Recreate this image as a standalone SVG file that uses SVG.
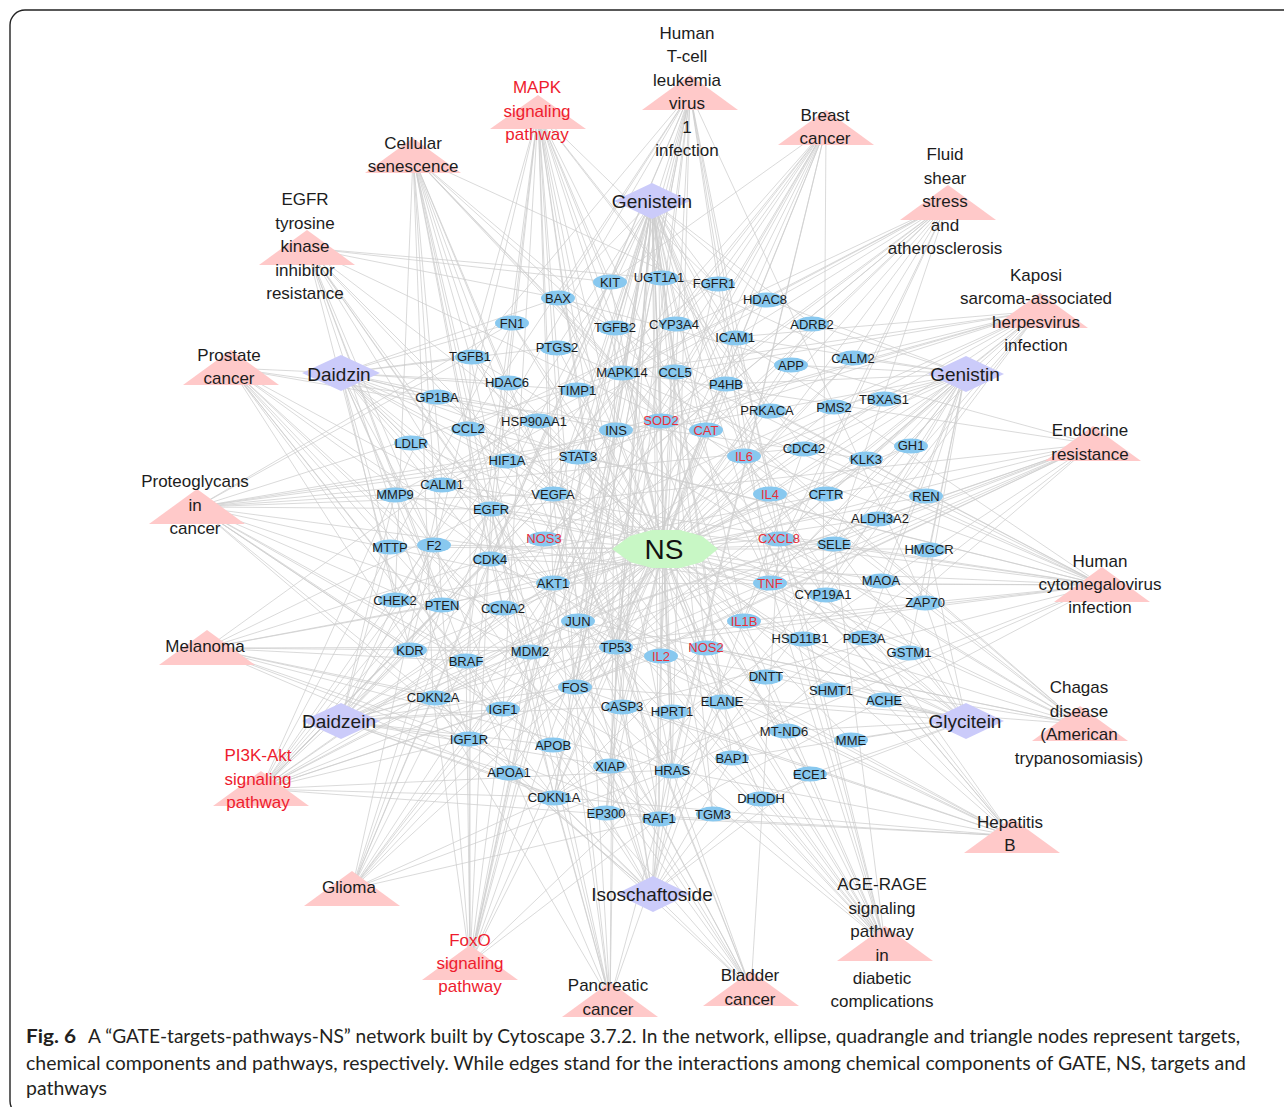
<svg xmlns="http://www.w3.org/2000/svg" width="1284" height="1107" viewBox="0 0 1284 1107">
<style>
.e{stroke:#cecece;stroke-width:.75;fill:none}
.t ellipse{fill:#88c8ef}
.t text{font:13px "Liberation Sans",Arial,sans-serif;fill:#1c1c1c;text-anchor:middle}
.t.r text{fill:#e8303a}
.p polygon{fill:#ffc9c9}
.p text{font:17px "Liberation Sans",Arial,sans-serif;fill:#1c1c1c;text-anchor:middle}
.p.r text{fill:#ee1c2e}
.c polygon{fill:#cbcbfa}
.c text{font:19px "Liberation Sans",Arial,sans-serif;fill:#1c1c1c;text-anchor:middle}
.cap{font-family:Lato,"Open Sans",sans-serif;font-size:19px;fill:#231f20}
</style>
<rect x="10" y="10" width="1300" height="1106" rx="15" fill="#fff" stroke="#222" stroke-width="1.4"/>
<g id="connectors">
<path id="e-P1" class="e" d="M307 248L491 509M307 248L553 583M307 248L558 298M307 248L466 661M307 248L714 283M307 248L672 770M307 248L744 456M307 248L410 650M307 248L659 818M307 248L578 456M307 248L442 605M307 248L469 739M307 248L503 709M307 248L553 494M307 248L507 460M307 248L610 282"/>
<path id="e-P2" class="e" d="M413 156L616 647M413 156L530 651M413 156L503 608M413 156L490 559M413 156L554 797M413 156L433 697M413 156L395 600M413 156L442 605M413 156L553 583M413 156L779 538M413 156L744 456M413 156L672 770M413 156L659 818M413 156L661 420M413 156L470 356M413 156L615 327M413 156L622 372M413 156L442 484M413 156L853 358"/>
<path id="e-P3" class="e" d="M538 112L553 583M538 112L466 661M538 112L804 448M538 112L491 509M538 112L714 283M538 112L575 687M538 112L672 770M538 112L503 709M538 112L469 739M538 112L744 621M538 112L616 430M538 112L578 621M538 112L410 650M538 112L610 282M538 112L622 372M538 112L659 818M538 112L470 356M538 112L615 327M538 112L770 583M538 112L616 647M538 112L553 494M538 112L768 410M538 112L622 706"/>
<path id="e-P4" class="e" d="M690 93L553 583M690 93L558 298M690 93L554 797M690 93L433 697M690 93L606 813M690 93L575 687M690 93L735 337M690 93L661 656M690 93L744 456M690 93L578 621M690 93L622 372M690 93L470 356M690 93L615 327M690 93L770 583M690 93L616 647M690 93L468 428M690 93L925 602M690 93L395 600M690 93L490 559M690 93L779 538M690 93L672 770"/>
<path id="e-P5" class="e" d="M826 128L553 583M826 128L466 661M826 128L490 559M826 128L554 797M826 128L491 509M826 128L714 283M826 128L575 687M826 128L672 770M826 128L503 709M826 128L469 739M826 128L578 621M826 128L610 282M826 128L659 818M826 128L616 647M826 128L442 605M826 128L823 595"/>
<path id="e-P6" class="e" d="M948 203L553 583M948 203L442 484M948 203L853 358M948 203L735 337M948 203L744 621M948 203L578 621M948 203L410 650M948 203L622 372M948 203L544 538M948 203L834 544M948 203L770 583M948 203L553 494M948 203L468 428M948 203L661 420M948 203L616 647M948 203L395 494M948 203L706 430"/>
<path id="e-P7" class="e" d="M1040 311L553 583M1040 311L675 372M1040 311L779 538M1040 311L606 813M1040 311L575 687M1040 311L672 770M1040 311L735 337M1040 311L744 456M1040 311L578 621M1040 311L622 372M1040 311L659 818M1040 311L578 456M1040 311L616 647M1040 311L490 559M1040 311L442 484M1040 311L853 358M1040 311L507 460M1040 311L554 797"/>
<path id="e-P8" class="e" d="M1093 444L553 583M1093 444L558 298M1093 444L466 661M1093 444L490 559M1093 444L554 797M1093 444L433 697M1093 444L491 509M1093 444L672 770M1093 444L469 739M1093 444L578 621M1093 444L622 372M1093 444L530 651M1093 444L659 818M1093 444L616 647M1093 444L575 687M1093 444L503 709"/>
<path id="e-P9" class="e" d="M1102 585L553 583M1102 585L558 298M1102 585L622 706M1102 585L468 428M1102 585L675 372M1102 585L804 448M1102 585L490 559M1102 585L554 797M1102 585L779 538M1102 585L491 509M1102 585L672 770M1102 585L744 621M1102 585L744 456M1102 585L530 651M1102 585L659 818M1102 585L578 456M1102 585L770 583M1102 585L616 647M1102 585L557 347M1102 585L768 410M1102 585L442 484M1102 585L735 337"/>
<path id="e-P10" class="e" d="M1080 724L468 428M1080 724L675 372M1080 724L575 687M1080 724L744 621M1080 724L661 656M1080 724L744 456M1080 724L578 621M1080 724L622 372M1080 724L706 647M1080 724L470 356M1080 724L615 327M1080 724L770 583M1080 724L779 538"/>
<path id="e-P11" class="e" d="M1012 836L553 583M1012 836L558 298M1012 836L622 706M1012 836L490 559M1012 836L554 797M1012 836L606 813M1012 836L575 687M1012 836L744 456M1012 836L578 621M1012 836L622 372M1012 836L659 818M1012 836L578 456M1012 836L770 583M1012 836L616 647M1012 836L779 538M1012 836L672 770"/>
<path id="e-P12" class="e" d="M885 944L553 583M885 944L468 428M885 944L779 538M885 944L735 337M885 944L744 621M885 944L744 456M885 944L578 621M885 944L622 372M885 944L544 538M885 944L834 544M885 944L578 456M885 944L470 356M885 944L770 583M885 944L553 494M885 944L622 706M885 944L558 298M885 944L512 323M885 944L672 770"/>
<path id="e-P13" class="e" d="M751 989L466 661M751 989L490 559M751 989L554 797M751 989L433 697M751 989L779 538M751 989L491 509M751 989L672 770M751 989L530 651M751 989L659 818M751 989L616 647M751 989L395 494M751 989L553 494"/>
<path id="e-P14" class="e" d="M610 1000L553 583M610 1000L466 661M610 1000L490 559M610 1000L433 697M610 1000L491 509M610 1000L659 818M610 1000L578 456M610 1000L470 356M610 1000L615 327M610 1000L616 647M610 1000L553 494M610 1000L804 448M610 1000L554 797"/>
<path id="e-P15" class="e" d="M470 963L553 583M470 963L466 661M470 963L706 430M470 963L554 797M470 963L433 697M470 963L491 509M470 963L672 770M470 963L503 709M470 963L469 739M470 963L616 430M470 963L622 372M470 963L530 651M470 963L659 818M470 963L661 420M470 963L578 456M470 963L470 356M470 963L615 327M470 963L442 605"/>
<path id="e-P16" class="e" d="M352 889L553 583M352 889L466 661M352 889L442 484M352 889L853 358M352 889L490 559M352 889L554 797M352 889L433 697M352 889L491 509M352 889L672 770M352 889L503 709M352 889L469 739M352 889L530 651M352 889L659 818M352 889L616 647M352 889L442 605"/>
<path id="e-P17" class="e" d="M261 789L553 583M261 789L490 559M261 789L554 797M261 789L491 509M261 789L714 283M261 789L512 323M261 789L911 445M261 789L672 770M261 789L503 709M261 789L469 739M261 789L661 656M261 789L770 494M261 789L744 456M261 789L616 430M261 789L410 650M261 789L610 282M261 789L530 651M261 789L659 818M261 789L616 647M261 789L553 494M261 789L442 605M261 789L534 421M261 789L437 397"/>
<path id="e-P18" class="e" d="M207 648L553 583M207 648L466 661M207 648L490 559M207 648L554 797M207 648L433 697M207 648L491 509M207 648L714 283M207 648L672 770M207 648L503 709M207 648L469 739M207 648L530 651M207 648L659 818M207 648L616 647M207 648L442 605"/>
<path id="e-P19" class="e" d="M197 507L553 583M197 507L466 661M197 507L554 797M197 507L491 509M197 507L512 323M197 507L507 460M197 507L672 770M197 507L503 709M197 507L469 739M197 507L410 650M197 507L622 372M197 507L530 651M197 507L395 494M197 507L659 818M197 507L578 456M197 507L470 356M197 507L770 583M197 507L616 647M197 507L553 494M197 507L768 410M197 507L804 448"/>
<path id="e-P20" class="e" d="M231 368L553 583M231 368L466 661M231 368L554 797M231 368L491 509M231 368L672 770M231 368L534 421M231 368L503 709M231 368L469 739M231 368L866 459M231 368L530 651M231 368L659 818M231 368L616 647M231 368L442 605M231 368L341 373"/>
<path id="e-Genistein" class="e" d="M652 201L610 282M652 201L659 277M652 201L714 283M652 201L558 298M652 201L765 299M652 201L615 327M652 201L674 324M652 201L735 337M652 201L812 324M652 201L557 347M652 201L622 372M652 201L675 372M652 201L726 384M652 201L768 410M652 201L661 420M652 201L616 430M652 201L706 430M652 201L744 456M652 201L578 456M652 201L553 494M652 201L491 509M652 201L544 538M652 201L779 538M652 201L490 559M652 201L553 583M652 201L770 583M652 201L823 595M652 201L578 621M652 201L744 621M652 201L616 647M652 201L706 647M652 201L661 656M652 201L575 687M652 201L622 706M652 201L672 711M652 201L722 701M652 201L610 766M652 201L672 770M652 201L554 797M652 201L606 813M652 201L659 818M652 201L713 814M652 201L732 758"/>
<path id="e-Daidzin" class="e" d="M341 373L437 397M341 373L470 356M341 373L508 382M341 373L411 443M341 373L468 428M341 373L395 494M341 373L442 484M341 373L434 545M341 373L390 547M341 373L395 600M341 373L442 605M341 373L507 460M341 373L491 509M341 373L490 559M341 373L553 583M341 373L544 538M341 373L512 323M341 373L558 298M341 373L576 390M341 373L534 421M341 373L557 347M341 373L578 456M341 373L553 494M341 373L616 430"/>
<path id="e-Genistin" class="e" d="M965 374L853 358M965 374L884 399M965 374L834 407M965 374L768 410M965 374L911 445M965 374L866 459M965 374L804 448M965 374L926 496M965 374L880 518M965 374L929 549M965 374L826 494M965 374L834 544M965 374L770 494M965 374L744 456M965 374L881 580M965 374L925 602M965 374L823 595M965 374L790 365M965 374L812 324M965 374L735 337M965 374L765 299M965 374L726 384M965 374L779 538M965 374L770 583M965 374L864 638M965 374L909 652"/>
<path id="e-Daidzein" class="e" d="M341 721L433 697M341 721L410 650M341 721L466 661M341 721L503 709M341 721L469 739M341 721L509 772M341 721L553 745M341 721L395 600M341 721L442 605M341 721L503 608M341 721L530 651M341 721L575 687M341 721L622 706M341 721L578 621M341 721L616 647M341 721L553 583M341 721L490 559M341 721L390 547M341 721L434 545M341 721L610 766M341 721L554 797M341 721L606 813M341 721L395 494M341 721L491 509"/>
<path id="e-Glycitein" class="e" d="M966 721L909 652M966 721L864 638M966 721L884 700M966 721L851 740M966 721L831 690M966 721L766 676M966 721L800 638M966 721L784 731M966 721L810 774M966 721L925 602M966 721L881 580M966 721L744 621M966 721L770 583M966 721L823 595M966 721L706 647M966 721L722 701M966 721L732 758M966 721L761 798M966 721L929 549M966 721L834 544"/>
<path id="e-Isoschaftoside" class="e" d="M652 894L659 818M652 894L713 814M652 894L606 813M652 894L672 770M652 894L610 766M652 894L554 797M652 894L761 798M652 894L732 758M652 894L509 772M652 894L553 745M652 894L672 711M652 894L622 706M652 894L575 687M652 894L616 647M652 894L661 656M652 894L706 647M652 894L722 701M652 894L810 774M652 894L469 739M652 894L578 621"/>
<path id="e-NS" class="e" d="M663 549L610 282M663 549L659 277M663 549L714 283M663 549L558 298M663 549L765 299M663 549L512 323M663 549L615 327M663 549L674 324M663 549L735 337M663 549L812 324M663 549L557 347M663 549L470 356M663 549L790 365M663 549L853 358M663 549L622 372M663 549L675 372M663 549L508 382M663 549L576 390M663 549L726 384M663 549L437 397M663 549L884 399M663 549L834 407M663 549L768 410M663 549L534 421M663 549L661 420M663 549L468 428M663 549L616 430M663 549L706 430M663 549L411 443M663 549L804 448M663 549L911 445M663 549L744 456M663 549L578 456M663 549L507 460M663 549L866 459M663 549L442 484M663 549L395 494M663 549L553 494M663 549L770 494M663 549L826 494M663 549L926 496M663 549L491 509M663 549L880 518M663 549L544 538M663 549L779 538M663 549L434 545M663 549L390 547M663 549L834 544M663 549L929 549M663 549L490 559M663 549L881 580M663 549L553 583M663 549L770 583M663 549L823 595M663 549L395 600M663 549L442 605M663 549L925 602M663 549L503 608M663 549L578 621M663 549L744 621M663 549L800 638M663 549L864 638M663 549L616 647M663 549L706 647M663 549L410 650M663 549L530 651M663 549L909 652M663 549L661 656M663 549L466 661M663 549L766 676M663 549L575 687M663 549L831 690M663 549L433 697M663 549L884 700M663 549L722 701M663 549L622 706M663 549L503 709M663 549L672 711M663 549L784 731M663 549L469 739M663 549L851 740M663 549L553 745M663 549L732 758M663 549L610 766M663 549L672 770M663 549L509 772M663 549L810 774M663 549L554 797M663 549L761 798M663 549L606 813M663 549L713 814M663 549L659 818"/>
</g>
<g id="pathways">
<g id="p-egfr" class="p"><polygon points="307,230 259,265 355,265"/><text><tspan x="305" y="205">EGFR</tspan><tspan x="305" y="229">tyrosine</tspan><tspan x="305" y="252">kinase</tspan><tspan x="305" y="276">inhibitor</tspan><tspan x="305" y="299">resistance</tspan></text></g>
<g id="p-senescence" class="p"><polygon points="413,138 365,173 461,173"/><text><tspan x="413" y="149">Cellular</tspan><tspan x="413" y="172">senescence</tspan></text></g>
<g id="p-mapk" class="p r"><polygon points="538,95 490,129 586,129"/><text><tspan x="537" y="93">MAPK</tspan><tspan x="537" y="117">signaling</tspan><tspan x="537" y="140">pathway</tspan></text></g>
<g id="p-htlv" class="p"><polygon points="690,75 642,110 738,110"/><text><tspan x="687" y="39">Human</tspan><tspan x="687" y="62">T-cell</tspan><tspan x="687" y="86">leukemia</tspan><tspan x="687" y="109">virus</tspan><tspan x="687" y="133">1</tspan><tspan x="687" y="156">infection</tspan></text></g>
<g id="p-breast" class="p"><polygon points="826,110 778,145 874,145"/><text><tspan x="825" y="121">Breast</tspan><tspan x="825" y="144">cancer</tspan></text></g>
<g id="p-fluid" class="p"><polygon points="948,185 900,220 996,220"/><text><tspan x="945" y="160">Fluid</tspan><tspan x="945" y="184">shear</tspan><tspan x="945" y="207">stress</tspan><tspan x="945" y="231">and</tspan><tspan x="945" y="254">atherosclerosis</tspan></text></g>
<g id="p-kaposi" class="p"><polygon points="1040,293 992,328 1088,328"/><text><tspan x="1036" y="281">Kaposi</tspan><tspan x="1036" y="304">sarcoma-associated</tspan><tspan x="1036" y="328">herpesvirus</tspan><tspan x="1036" y="351">infection</tspan></text></g>
<g id="p-endocrine" class="p"><polygon points="1093,426 1045,461 1141,461"/><text><tspan x="1090" y="436">Endocrine</tspan><tspan x="1090" y="460">resistance</tspan></text></g>
<g id="p-hcmv" class="p"><polygon points="1102,567 1054,602 1150,602"/><text><tspan x="1100" y="567">Human</tspan><tspan x="1100" y="590">cytomegalovirus</tspan><tspan x="1100" y="613">infection</tspan></text></g>
<g id="p-chagas" class="p"><polygon points="1080,706 1032,741 1128,741"/><text><tspan x="1079" y="693">Chagas</tspan><tspan x="1079" y="717">disease</tspan><tspan x="1079" y="740">(American</tspan><tspan x="1079" y="764">trypanosomiasis)</tspan></text></g>
<g id="p-hepb" class="p"><polygon points="1012,818 964,853 1060,853"/><text><tspan x="1010" y="828">Hepatitis</tspan><tspan x="1010" y="851">B</tspan></text></g>
<g id="p-agerage" class="p"><polygon points="885,926 837,961 933,961"/><text><tspan x="882" y="890">AGE-RAGE</tspan><tspan x="882" y="914">signaling</tspan><tspan x="882" y="937">pathway</tspan><tspan x="882" y="961">in</tspan><tspan x="882" y="984">diabetic</tspan><tspan x="882" y="1007">complications</tspan></text></g>
<g id="p-bladder" class="p"><polygon points="751,971 703,1006 799,1006"/><text><tspan x="750" y="981">Bladder</tspan><tspan x="750" y="1005">cancer</tspan></text></g>
<g id="p-pancreatic" class="p"><polygon points="610,982 562,1017 658,1017"/><text><tspan x="608" y="991">Pancreatic</tspan><tspan x="608" y="1015">cancer</tspan></text></g>
<g id="p-foxo" class="p r"><polygon points="470,945 422,980 518,980"/><text><tspan x="470" y="946">FoxO</tspan><tspan x="470" y="969">signaling</tspan><tspan x="470" y="992">pathway</tspan></text></g>
<g id="p-glioma" class="p"><polygon points="352,871 304,906 400,906"/><text x="349" y="893">Glioma</text></g>
<g id="p-pi3k" class="p r"><polygon points="261,771 213,806 309,806"/><text><tspan x="258" y="761">PI3K-Akt</tspan><tspan x="258" y="785">signaling</tspan><tspan x="258" y="808">pathway</tspan></text></g>
<g id="p-melanoma" class="p"><polygon points="207,630 159,665 255,665"/><text x="205" y="652">Melanoma</text></g>
<g id="p-proteoglycans" class="p"><polygon points="197,489 149,524 245,524"/><text><tspan x="195" y="487">Proteoglycans</tspan><tspan x="195" y="511">in</tspan><tspan x="195" y="534">cancer</tspan></text></g>
<g id="p-prostate" class="p"><polygon points="231,350 183,385 279,385"/><text><tspan x="229" y="361">Prostate</tspan><tspan x="229" y="384">cancer</tspan></text></g>
</g>
<g id="compounds">
<g id="c-genistein" class="c"><polygon points="652,183 690,201 652,219 614,201"/><text x="652" y="208">Genistein</text></g>
<g id="c-daidzin" class="c"><polygon points="341,355 380,373 341,391 302,373"/><text x="339" y="381">Daidzin</text></g>
<g id="c-genistin" class="c"><polygon points="966,356 1004,374 966,392 928,374"/><text x="965" y="381">Genistin</text></g>
<g id="c-daidzein" class="c"><polygon points="341,703 380,721 341,739 302,721"/><text x="339" y="728">Daidzein</text></g>
<g id="c-glycitein" class="c"><polygon points="966,703 1004,721 966,739 928,721"/><text x="965" y="728">Glycitein</text></g>
<g id="c-isoschaftoside" class="c"><polygon points="653,876 690,894 653,912 616,894"/><text x="652" y="901">Isoschaftoside</text></g>
</g>
<g id="NS"><polygon points="612,549 630,536 652,530 680,530 702,536 718,549 702,562 680,568 652,568 630,562" fill="#c8f7c5"/><text x="664" y="559" font-family="Liberation Sans,Arial,sans-serif" font-size="28" text-anchor="middle" fill="#111">NS</text></g>
<g id="targets">
<g id="KIT" class="t"><ellipse cx="610" cy="282" rx="17" ry="7.5"/><text x="610" y="286.5">KIT</text></g>
<g id="UGT1A1" class="t"><ellipse cx="662" cy="278" rx="17" ry="7.5"/><text x="659" y="281.5">UGT1A1</text></g>
<g id="FGFR1" class="t"><ellipse cx="718" cy="284" rx="17" ry="7.5"/><text x="714" y="287.5">FGFR1</text></g>
<g id="BAX" class="t"><ellipse cx="558" cy="298" rx="17" ry="7.5"/><text x="558" y="302.5">BAX</text></g>
<g id="HDAC8" class="t"><ellipse cx="767" cy="300" rx="17" ry="7.5"/><text x="765" y="303.5">HDAC8</text></g>
<g id="FN1" class="t"><ellipse cx="512" cy="323" rx="17" ry="7.5"/><text x="512" y="327.5">FN1</text></g>
<g id="TGFB2" class="t"><ellipse cx="615" cy="328" rx="17" ry="7.5"/><text x="615" y="331.5">TGFB2</text></g>
<g id="CYP3A4" class="t"><ellipse cx="676" cy="324" rx="17" ry="7.5"/><text x="674" y="328.5">CYP3A4</text></g>
<g id="ICAM1" class="t"><ellipse cx="736" cy="338" rx="17" ry="7.5"/><text x="735" y="341.5">ICAM1</text></g>
<g id="ADRB2" class="t"><ellipse cx="812" cy="324" rx="17" ry="7.5"/><text x="812" y="328.5">ADRB2</text></g>
<g id="PTGS2" class="t"><ellipse cx="557" cy="348" rx="17" ry="7.5"/><text x="557" y="351.5">PTGS2</text></g>
<g id="TGFB1" class="t"><ellipse cx="472" cy="357" rx="17" ry="7.5"/><text x="470" y="360.5">TGFB1</text></g>
<g id="APP" class="t"><ellipse cx="791" cy="365" rx="17" ry="7.5"/><text x="791" y="369.5">APP</text></g>
<g id="CALM2" class="t"><ellipse cx="853" cy="358" rx="17" ry="7.5"/><text x="853" y="362.5">CALM2</text></g>
<g id="MAPK14" class="t"><ellipse cx="622" cy="373" rx="17" ry="7.5"/><text x="622" y="376.5">MAPK14</text></g>
<g id="CCL5" class="t"><ellipse cx="675" cy="372" rx="17" ry="7.5"/><text x="675" y="376.5">CCL5</text></g>
<g id="HDAC6" class="t"><ellipse cx="508" cy="383" rx="17" ry="7.5"/><text x="507" y="386.5">HDAC6</text></g>
<g id="TIMP1" class="t"><ellipse cx="577" cy="390" rx="17" ry="7.5"/><text x="577" y="394.5">TIMP1</text></g>
<g id="P4HB" class="t"><ellipse cx="726" cy="384" rx="17" ry="7.5"/><text x="726" y="388.5">P4HB</text></g>
<g id="GP1BA" class="t"><ellipse cx="437" cy="397" rx="17" ry="7.5"/><text x="437" y="401.5">GP1BA</text></g>
<g id="TBXAS1" class="t"><ellipse cx="884" cy="399" rx="17" ry="7.5"/><text x="884" y="403.5">TBXAS1</text></g>
<g id="PMS2" class="t"><ellipse cx="834" cy="407" rx="17" ry="7.5"/><text x="834" y="411.5">PMS2</text></g>
<g id="PRKACA" class="t"><ellipse cx="770" cy="411" rx="17" ry="7.5"/><text x="767" y="414.5">PRKACA</text></g>
<g id="HSP90AA1" class="t"><ellipse cx="538" cy="421" rx="17" ry="7.5"/><text x="534" y="425.5">HSP90AA1</text></g>
<g id="SOD2" class="t r"><ellipse cx="661" cy="421" rx="17" ry="7.5"/><text x="661" y="424.5">SOD2</text></g>
<g id="CCL2" class="t"><ellipse cx="468" cy="429" rx="17" ry="7.5"/><text x="468" y="432.5">CCL2</text></g>
<g id="INS" class="t"><ellipse cx="616" cy="430" rx="17" ry="7.5"/><text x="616" y="434.5">INS</text></g>
<g id="CAT" class="t r"><ellipse cx="706" cy="430" rx="17" ry="7.5"/><text x="706" y="434.5">CAT</text></g>
<g id="LDLR" class="t"><ellipse cx="411" cy="443" rx="17" ry="7.5"/><text x="411" y="447.5">LDLR</text></g>
<g id="CDC42" class="t"><ellipse cx="804" cy="449" rx="17" ry="7.5"/><text x="804" y="452.5">CDC42</text></g>
<g id="GH1" class="t"><ellipse cx="911" cy="446" rx="17" ry="7.5"/><text x="911" y="449.5">GH1</text></g>
<g id="IL6" class="t r"><ellipse cx="744" cy="456" rx="17" ry="7.5"/><text x="744" y="460.5">IL6</text></g>
<g id="STAT3" class="t"><ellipse cx="578" cy="457" rx="17" ry="7.5"/><text x="578" y="460.5">STAT3</text></g>
<g id="HIF1A" class="t"><ellipse cx="507" cy="461" rx="17" ry="7.5"/><text x="507" y="464.5">HIF1A</text></g>
<g id="KLK3" class="t"><ellipse cx="866" cy="459" rx="17" ry="7.5"/><text x="866" y="463.5">KLK3</text></g>
<g id="CALM1" class="t"><ellipse cx="442" cy="485" rx="17" ry="7.5"/><text x="442" y="488.5">CALM1</text></g>
<g id="MMP9" class="t"><ellipse cx="395" cy="495" rx="17" ry="7.5"/><text x="395" y="498.5">MMP9</text></g>
<g id="VEGFA" class="t"><ellipse cx="553" cy="494" rx="17" ry="7.5"/><text x="553" y="498.5">VEGFA</text></g>
<g id="IL4" class="t r"><ellipse cx="770" cy="494" rx="17" ry="7.5"/><text x="770" y="498.5">IL4</text></g>
<g id="CFTR" class="t"><ellipse cx="826" cy="494" rx="17" ry="7.5"/><text x="826" y="498.5">CFTR</text></g>
<g id="REN" class="t"><ellipse cx="926" cy="496" rx="17" ry="7.5"/><text x="926" y="500.5">REN</text></g>
<g id="EGFR" class="t"><ellipse cx="491" cy="509" rx="17" ry="7.5"/><text x="491" y="513.5">EGFR</text></g>
<g id="ALDH3A2" class="t"><ellipse cx="878" cy="519" rx="17" ry="7.5"/><text x="880" y="522.5">ALDH3A2</text></g>
<g id="NOS3" class="t r"><ellipse cx="544" cy="539" rx="17" ry="7.5"/><text x="544" y="542.5">NOS3</text></g>
<g id="CXCL8" class="t r"><ellipse cx="779" cy="539" rx="17" ry="7.5"/><text x="779" y="542.5">CXCL8</text></g>
<g id="F2" class="t"><ellipse cx="434" cy="545" rx="17" ry="7.5"/><text x="434" y="549.5">F2</text></g>
<g id="MTTP" class="t"><ellipse cx="390" cy="547" rx="17" ry="7.5"/><text x="390" y="551.5">MTTP</text></g>
<g id="SELE" class="t"><ellipse cx="834" cy="544" rx="17" ry="7.5"/><text x="834" y="548.5">SELE</text></g>
<g id="HMGCR" class="t"><ellipse cx="929" cy="550" rx="17" ry="7.5"/><text x="929" y="553.5">HMGCR</text></g>
<g id="CDK4" class="t"><ellipse cx="490" cy="559" rx="17" ry="7.5"/><text x="490" y="563.5">CDK4</text></g>
<g id="MAOA" class="t"><ellipse cx="881" cy="581" rx="17" ry="7.5"/><text x="881" y="584.5">MAOA</text></g>
<g id="AKT1" class="t"><ellipse cx="553" cy="583" rx="17" ry="7.5"/><text x="553" y="587.5">AKT1</text></g>
<g id="TNF" class="t r"><ellipse cx="770" cy="583" rx="17" ry="7.5"/><text x="770" y="587.5">TNF</text></g>
<g id="CYP19A1" class="t"><ellipse cx="826" cy="595" rx="17" ry="7.5"/><text x="823" y="598.5">CYP19A1</text></g>
<g id="CHEK2" class="t"><ellipse cx="395" cy="600" rx="17" ry="7.5"/><text x="395" y="604.5">CHEK2</text></g>
<g id="PTEN" class="t"><ellipse cx="442" cy="605" rx="17" ry="7.5"/><text x="442" y="609.5">PTEN</text></g>
<g id="ZAP70" class="t"><ellipse cx="925" cy="603" rx="17" ry="7.5"/><text x="925" y="606.5">ZAP70</text></g>
<g id="CCNA2" class="t"><ellipse cx="503" cy="608" rx="17" ry="7.5"/><text x="503" y="612.5">CCNA2</text></g>
<g id="JUN" class="t"><ellipse cx="578" cy="621" rx="17" ry="7.5"/><text x="578" y="625.5">JUN</text></g>
<g id="IL1B" class="t r"><ellipse cx="744" cy="621" rx="17" ry="7.5"/><text x="744" y="625.5">IL1B</text></g>
<g id="HSD11B1" class="t"><ellipse cx="803" cy="639" rx="17" ry="7.5"/><text x="800" y="642.5">HSD11B1</text></g>
<g id="PDE3A" class="t"><ellipse cx="864" cy="638" rx="17" ry="7.5"/><text x="864" y="642.5">PDE3A</text></g>
<g id="TP53" class="t"><ellipse cx="616" cy="647" rx="17" ry="7.5"/><text x="616" y="651.5">TP53</text></g>
<g id="NOS2" class="t r"><ellipse cx="706" cy="648" rx="17" ry="7.5"/><text x="706" y="651.5">NOS2</text></g>
<g id="KDR" class="t"><ellipse cx="410" cy="650" rx="17" ry="7.5"/><text x="410" y="654.5">KDR</text></g>
<g id="MDM2" class="t"><ellipse cx="530" cy="652" rx="17" ry="7.5"/><text x="530" y="655.5">MDM2</text></g>
<g id="GSTM1" class="t"><ellipse cx="909" cy="653" rx="17" ry="7.5"/><text x="909" y="656.5">GSTM1</text></g>
<g id="IL2" class="t r"><ellipse cx="661" cy="656" rx="17" ry="7.5"/><text x="661" y="660.5">IL2</text></g>
<g id="BRAF" class="t"><ellipse cx="466" cy="661" rx="17" ry="7.5"/><text x="466" y="665.5">BRAF</text></g>
<g id="DNTT" class="t"><ellipse cx="766" cy="677" rx="17" ry="7.5"/><text x="766" y="680.5">DNTT</text></g>
<g id="FOS" class="t"><ellipse cx="575" cy="687" rx="17" ry="7.5"/><text x="575" y="691.5">FOS</text></g>
<g id="SHMT1" class="t"><ellipse cx="831" cy="690" rx="17" ry="7.5"/><text x="831" y="694.5">SHMT1</text></g>
<g id="CDKN2A" class="t"><ellipse cx="435" cy="698" rx="17" ry="7.5"/><text x="433" y="701.5">CDKN2A</text></g>
<g id="ACHE" class="t"><ellipse cx="884" cy="700" rx="17" ry="7.5"/><text x="884" y="704.5">ACHE</text></g>
<g id="ELANE" class="t"><ellipse cx="722" cy="702" rx="17" ry="7.5"/><text x="722" y="705.5">ELANE</text></g>
<g id="CASP3" class="t"><ellipse cx="622" cy="707" rx="17" ry="7.5"/><text x="622" y="710.5">CASP3</text></g>
<g id="IGF1" class="t"><ellipse cx="503" cy="709" rx="17" ry="7.5"/><text x="503" y="713.5">IGF1</text></g>
<g id="HPRT1" class="t"><ellipse cx="672" cy="712" rx="17" ry="7.5"/><text x="672" y="715.5">HPRT1</text></g>
<g id="MT-ND6" class="t"><ellipse cx="786" cy="731" rx="17" ry="7.5"/><text x="784" y="735.5">MT-ND6</text></g>
<g id="IGF1R" class="t"><ellipse cx="469" cy="739" rx="17" ry="7.5"/><text x="469" y="743.5">IGF1R</text></g>
<g id="MME" class="t"><ellipse cx="851" cy="740" rx="17" ry="7.5"/><text x="851" y="744.5">MME</text></g>
<g id="APOB" class="t"><ellipse cx="553" cy="745" rx="17" ry="7.5"/><text x="553" y="749.5">APOB</text></g>
<g id="BAP1" class="t"><ellipse cx="732" cy="758" rx="17" ry="7.5"/><text x="732" y="762.5">BAP1</text></g>
<g id="XIAP" class="t"><ellipse cx="610" cy="766" rx="17" ry="7.5"/><text x="610" y="770.5">XIAP</text></g>
<g id="HRAS" class="t"><ellipse cx="672" cy="771" rx="17" ry="7.5"/><text x="672" y="774.5">HRAS</text></g>
<g id="APOA1" class="t"><ellipse cx="509" cy="773" rx="17" ry="7.5"/><text x="509" y="776.5">APOA1</text></g>
<g id="ECE1" class="t"><ellipse cx="810" cy="774" rx="17" ry="7.5"/><text x="810" y="778.5">ECE1</text></g>
<g id="CDKN1A" class="t"><ellipse cx="554" cy="798" rx="17" ry="7.5"/><text x="554" y="801.5">CDKN1A</text></g>
<g id="DHODH" class="t"><ellipse cx="761" cy="799" rx="17" ry="7.5"/><text x="761" y="802.5">DHODH</text></g>
<g id="EP300" class="t"><ellipse cx="606" cy="813" rx="17" ry="7.5"/><text x="606" y="817.5">EP300</text></g>
<g id="TGM3" class="t"><ellipse cx="713" cy="814" rx="17" ry="7.5"/><text x="713" y="818.5">TGM3</text></g>
<g id="RAF1" class="t"><ellipse cx="659" cy="819" rx="17" ry="7.5"/><text x="659" y="822.5">RAF1</text></g>
</g>
<g id="caption" class="cap">
<text x="26" y="1043" font-weight="bold" textLength="50" lengthAdjust="spacingAndGlyphs">Fig. 6</text>
<text x="88" y="1043" textLength="1152" lengthAdjust="spacingAndGlyphs">A “GATE-targets-pathways-NS” network built by Cytoscape 3.7.2. In the network, ellipse, quadrangle and triangle nodes represent targets,</text>
<text x="26" y="1070" textLength="1220" lengthAdjust="spacingAndGlyphs">chemical components and pathways, respectively. While edges stand for the interactions among chemical components of GATE, NS, targets and</text>
<text x="26" y="1095" textLength="81" lengthAdjust="spacingAndGlyphs">pathways</text>
</g>
</svg>
